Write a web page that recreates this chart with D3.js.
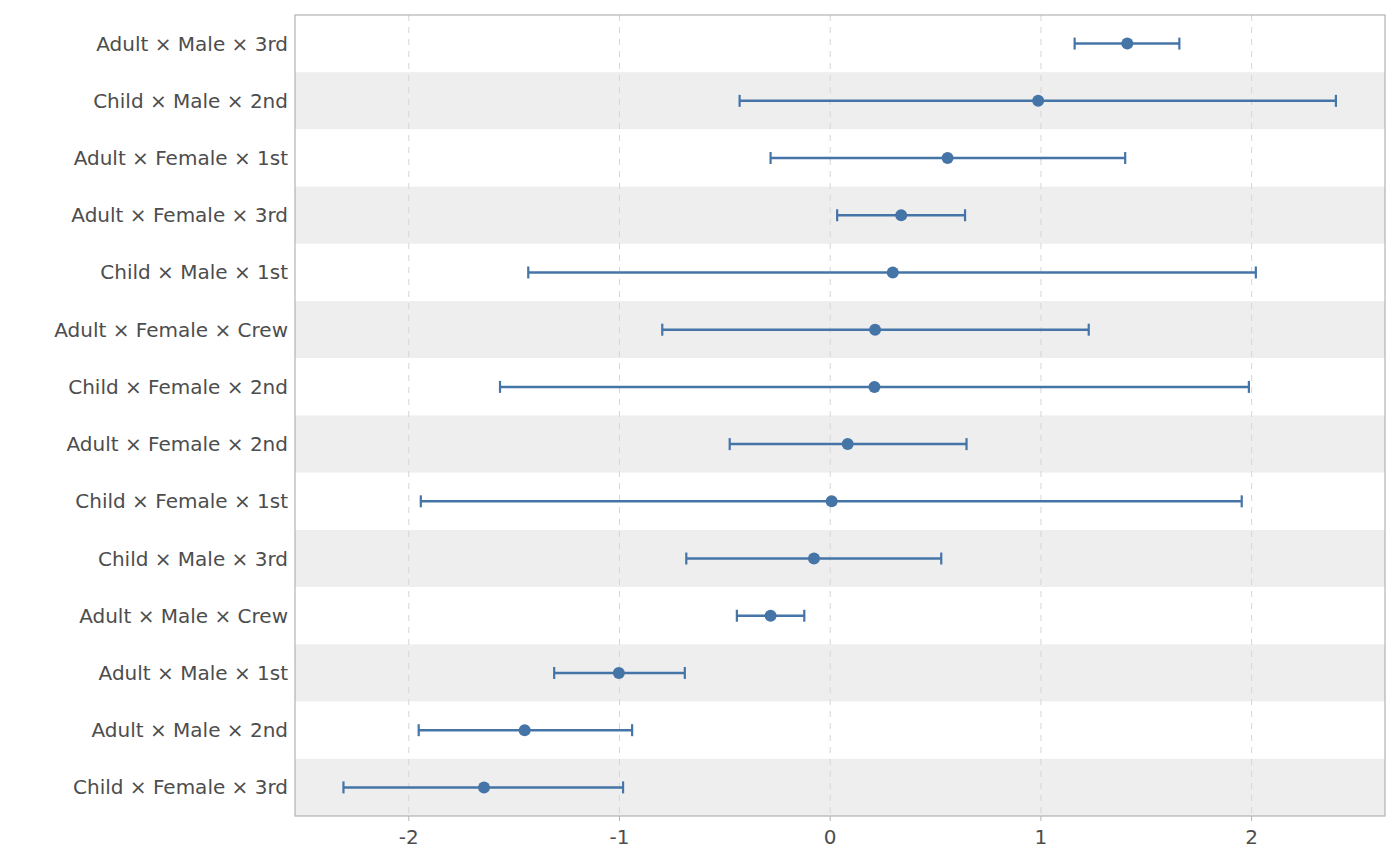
<!DOCTYPE html>
<html><head><meta charset="utf-8">
<script src="https://cdn.jsdelivr.net/npm/d3@7"></script>
<style>body{margin:0;background:#fff;font-family:"DejaVu Sans",sans-serif;}</style>
</head><body><svg></svg>
<script>
const labels = ['Adult × Male × 3rd','Child × Male × 2nd','Adult × Female × 1st','Adult × Female × 3rd','Child × Male × 1st','Adult × Female × Crew','Child × Female × 2nd','Adult × Female × 2nd','Child × Female × 1st','Child × Male × 3rd','Adult × Male × Crew','Adult × Male × 1st','Adult × Male × 2nd','Child × Female × 3rd'];
const estimates = [1.41, 0.987, 0.557, 0.337, 0.297, 0.213, 0.21, 0.083, 0.007, -0.077, -0.283, -1.003, -1.45, -1.643];
const lower = [1.16, -0.43, -0.283, 0.033, -1.433, -0.797, -1.567, -0.477, -1.943, -0.683, -0.443, -1.31, -1.953, -2.31];
const upper = [1.657, 2.40, 1.40, 0.64, 2.02, 1.227, 1.987, 0.647, 1.953, 0.527, -0.123, -0.69, -0.94, -0.983];
const xTicks = [-2, -1, 0, 1, 2];

const margin = {top: 15, right: 15, bottom: 50, left: 295};
const width = 1400 - margin.left - margin.right;
const height = 866 - margin.top - margin.bottom;
const color = '#4574a7';

const svg = d3.select('svg').attr('width', 1400).attr('height', 866)
  .append('g').attr('transform', `translate(${margin.left}, ${margin.top})`);

const x = d3.scaleLinear().domain([-2.54, 2.633]).range([0, width]);
const y = d3.scaleBand().domain(labels).range([0, height]);

svg.selectAll('.band').data(labels).enter().append('rect')
  .attr('x', 0).attr('y', d => y(d)).attr('width', width).attr('height', y.bandwidth())
  .attr('fill', (d, i) => i % 2 ? '#eeeeee' : '#ffffff');

svg.selectAll('.grid').data(xTicks).enter().append('line')
  .attr('x1', d => x(d)).attr('x2', d => x(d)).attr('y1', 0).attr('y2', height)
  .attr('stroke', '#d6d6d6').attr('stroke-dasharray', '6,6');

const rows = labels.map((l, i) => ({l, e: estimates[i], lo: lower[i], hi: upper[i]}));
const g = svg.selectAll('.row').data(rows).enter().append('g')
  .attr('transform', d => `translate(0, ${y(d.l) + y.bandwidth() / 2})`);
g.append('line').attr('x1', d => x(d.lo)).attr('x2', d => x(d.hi))
  .attr('stroke', color).attr('stroke-width', 2.5);
g.append('line').attr('x1', d => x(d.lo)).attr('x2', d => x(d.lo)).attr('y1', -6).attr('y2', 6)
  .attr('stroke', color).attr('stroke-width', 2.2);
g.append('line').attr('x1', d => x(d.hi)).attr('x2', d => x(d.hi)).attr('y1', -6).attr('y2', 6)
  .attr('stroke', color).attr('stroke-width', 2.2);
g.append('circle').attr('cx', d => x(d.e)).attr('r', 6).attr('fill', color);

svg.append('rect').attr('width', width).attr('height', height)
  .attr('fill', 'none').attr('stroke', '#b3b3b3').attr('stroke-width', 1.2);

svg.selectAll('.xl').data(xTicks).enter().append('text')
  .attr('x', d => x(d)).attr('y', height + 28).attr('text-anchor', 'middle')
  .attr('font-size', 20).attr('fill', '#4d4d4d').text(d => d);
svg.selectAll('.xt').data(xTicks).enter().append('line')
  .attr('x1', d => x(d)).attr('x2', d => x(d)).attr('y1', height).attr('y2', height + 5)
  .attr('stroke', '#b3b3b3');

svg.selectAll('.yl').data(labels).enter().append('text')
  .attr('x', -7).attr('y', d => y(d) + y.bandwidth() / 2).attr('dy', '0.35em')
  .attr('text-anchor', 'end').attr('font-size', 20).attr('fill', '#4d4d4d').text(d => d);
</script></body></html>
